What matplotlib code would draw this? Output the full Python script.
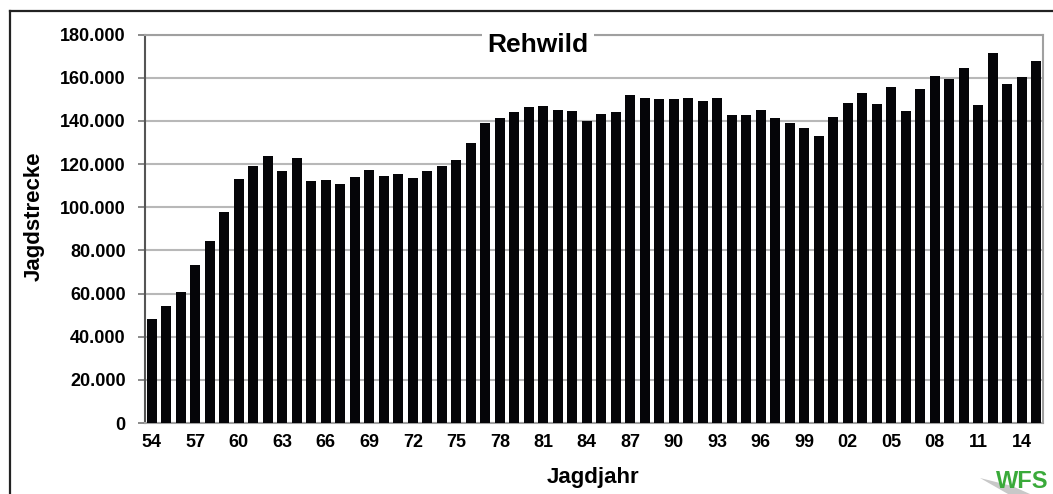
import matplotlib
matplotlib.use("Agg")
import matplotlib.pyplot as plt
from matplotlib.ticker import FuncFormatter, MultipleLocator
from matplotlib.lines import Line2D
from matplotlib.patches import Polygon

plt.rcParams['font.family'] = ['Liberation Sans', 'DejaVu Sans']

years = [f"{y % 100:02d}" for y in range(1954, 2016)]
strecke = [48400, 54300, 60800, 73100, 84400, 98000, 113200, 119200, 123700, 116700,
           122900, 112200, 112700, 111000, 114000, 117300, 114400, 115500, 113400, 116600,
           119300, 122000, 129700, 139000, 141500, 144300, 146600, 147000, 145300, 144700,
           140100, 143300, 144300, 152000, 150700, 150100, 150100, 150700, 149200, 150600,
           142900, 143000, 144900, 141500, 139200, 136700, 133100, 141900, 148300, 153200,
           147800, 155600, 144600, 154900, 161000, 159600, 164700, 147400, 171300, 157100,
           160300, 167600]
tick_every = 3
title = "Rehwild"
xlabel = "Jagdjahr"
ylabel = "Jagdstrecke"

W, H = 1053, 494
fig = plt.figure(figsize=(W / 100, H / 100), dpi=100)
ax = fig.add_axes([145 / W, 1 - 423 / H, (1043 - 145) / W, (423 - 34.7) / H])

x = list(range(len(strecke)))
ax.bar(x, strecke, width=0.69, color='#050508', zorder=3)

ax.set_xlim(-0.47, len(strecke) - 1 + 0.47)
ax.set_ylim(0, 180000)
ax.yaxis.set_major_locator(MultipleLocator(20000))
ax.yaxis.set_major_formatter(FuncFormatter(lambda v, p: f"{int(v):,}".replace(",", ".")))
ax.grid(axis='y', color='#b8b8b8', linewidth=1.5, zorder=0)
ax.set_axisbelow(True)

ax.set_xticks(x[::tick_every])
ax.set_xticklabels(years[::tick_every])
ax.tick_params(axis='x', length=0, pad=8, labelsize=13)
ax.tick_params(axis='y', length=5, width=1.2, color='#777777', pad=9, labelsize=13)
for lab in ax.get_xticklabels() + ax.get_yticklabels():
    lab.set_fontweight('bold')

ax.spines['left'].set_color('#555555')
ax.spines['left'].set_linewidth(1.5)
for s in ['top', 'right', 'bottom']:
    ax.spines[s].set_color('#a0a0a0')
    ax.spines[s].set_linewidth(1.5)

ax.set_xlabel(xlabel, fontsize=16, fontweight='bold')
ax.xaxis.set_label_coords((593 - 145) / 898, (423 - 467) / 388.3)
ax.set_ylabel(ylabel, fontsize=16, fontweight='bold')
ax.yaxis.set_label_coords((45 - 145) / 898, (423 - 216) / 388.3)

fig.text(538 / W, 1 - 51.5 / H, title, fontsize=19, fontweight='bold',
         ha='center', va='baseline', zorder=10,
         bbox=dict(facecolor='white', edgecolor='none', pad=4))

# outer frame
fig.add_artist(Line2D([10 / W, 1], [1 - 11 / H, 1 - 11 / H], color='#222222', linewidth=1.6))
fig.add_artist(Line2D([10 / W, 10 / W], [0, 1 - 11 / H], color='#222222', linewidth=1.6))

# WFS logo: grey swoosh + green letters
px = [(980, 478), (1012, 486), (1030, 494), (1008, 494)]
fig.add_artist(Polygon([(a / W, 1 - b / H) for a, b in px], closed=True,
                       facecolor='#c8c8c8', edgecolor='none', transform=fig.transFigure))
fig.text(1022 / W, 1 - 488 / H, "WFS", fontsize=17, fontweight='bold',
         color='#3aaa3a', ha='center', va='baseline', zorder=5)

fig.savefig("out.png", dpi=100)
